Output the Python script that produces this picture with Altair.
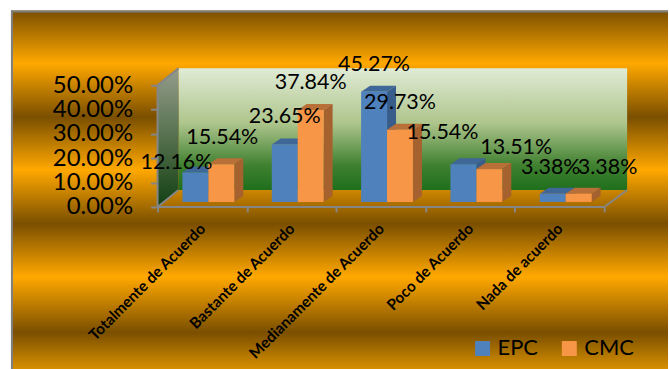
import altair as alt
import pandas as pd

# Survey answers and the share of each group that chose them
categories = ["Totalmente de Acuerdo", "Bastante de Acuerdo", "Medianamente de Acuerdo",
              "Poco de Acuerdo", "Nada de acuerdo"]
epc = [0.1216, 0.2365, 0.4527, 0.1554, 0.0338]
cmc = [0.1554, 0.3784, 0.2973, 0.1351, 0.0338]

# Scale geometry of the drawing
PLOT_W, PLOT_H = 471, 139
PX_X = 89.6            # pixels per category
PX_Y = 244.0           # pixels per 100 %
X_MAX = PLOT_W / PX_X
Y_MAX = PLOT_H / PX_Y
WALL_DX, WALL_DY = 21 / PX_X, 17 / PX_Y
BAR_DX, BAR_DY = 9 / PX_X, 6 / PX_Y
BAR_W = 26 / PX_X
BAR_START = 25 / PX_X
BAR_BASE = 5 / PX_Y

SERIES = {
    "EPC": {"values": epc, "slot": 0, "front": "#4f81bd", "side": "#385d8a", "top": "#3f6797"},
    "CMC": {"values": cmc, "slot": 1, "front": "#f79646", "side": "#a5622f", "top": "#b96f38"},
}

# Pixel nudges of the value labels away from their default spot above each bar
EPC_NUDGE = [(-19, 18), (0, 0), (0, 0), (-21, -4), (-2, 1)]
CMC_NUDGE = [(1, 1), (0, 0), (0, 0), (27, 6), (29, 1)]
NUDGES = {"EPC": EPC_NUDGE, "CMC": CMC_NUDGE}

fronts, faces, labels = [], [], []
for name, s in SERIES.items():
    for i, v in enumerate(s["values"]):
        left = i + BAR_START + s["slot"] * BAR_W
        right = left + BAR_W
        top = v + BAR_BASE
        fronts.append({"series": name, "x": left, "x2": right, "y": top, "y2": BAR_BASE})
        pid = f"{name}{i}"
        faces += [
            {"id": pid + "t", "fill": s["top"], "x": left, "y": top, "y2": top},
            {"id": pid + "t", "fill": s["top"], "x": left + BAR_DX, "y": top + BAR_DY, "y2": top},
            {"id": pid + "t", "fill": s["top"], "x": right, "y": top + BAR_DY, "y2": top},
            {"id": pid + "t", "fill": s["top"], "x": right + BAR_DX, "y": top + BAR_DY, "y2": top + BAR_DY},
            {"id": pid + "s", "fill": s["side"], "x": right, "y": top, "y2": BAR_BASE},
            {"id": pid + "s", "fill": s["side"], "x": right + BAR_DX, "y": top + BAR_DY, "y2": BAR_BASE + BAR_DY},
        ]
        nx, ny = NUDGES[name][i]
        labels.append({"value": v, "x": (left + right) / 2 + nx / PX_X,
                       "y": top + (27 - ny) / PX_Y})

x_scale = alt.Scale(domain=[0, X_MAX], nice=False, zero=False)
y_scale = alt.Scale(domain=[0, Y_MAX], nice=False, zero=False)

# Percentage ticks on the left, slanted answer labels below the floor
x_axis = alt.Axis(
    values=[0, 1, 2, 3, 4, 5], domain=False, grid=False, tickSize=5, tickWidth=2,
    tickColor="#868686", labelAngle=-45, labelAlign="right", labelBaseline="middle",
    labelOffset=45, labelPadding=14, labelFont="Lato", labelFontSize=15.3,
    labelFontWeight="bold", labelColor="black", labelOverlap=False, labelFlush=False,
    labelBound=False, labelLimit=400, zindex=1,
    labelExpr="[" + ",".join(repr(c) for c in categories) + ",''][datum.value]")
y_axis = alt.Axis(
    values=[0, 0.1, 0.2, 0.3, 0.4, 0.5], format=".2%", domain=False, grid=False,
    tickSize=7, tickWidth=2, tickColor="#868686", labelPadding=18, labelFont="Lato",
    labelFontSize=24, labelColor="black", labelOverlap=False, labelBound=False,
    labelFlush=False, zindex=1)

X = lambda f="x": alt.X(f"{f}:Q", scale=x_scale, axis=x_axis, title=None)
Y = lambda f="y": alt.Y(f"{f}:Q", scale=y_scale, axis=y_axis, title=None)


def vgrad(*stops):
    return alt.LinearGradient(
        gradient="linear", x1=0, y1=0, x2=0, y2=1,
        stops=[alt.GradientStop(offset=o, color=c) for o, c in stops],
    )


DARK, AMBER = "#7a4f00", "#ffa800"
one = pd.DataFrame({"k": [0]})

# Metallic banded panel behind everything
panel = alt.Chart(one).mark_rect(
    fill=vgrad((0, DARK), (0.147, AMBER), (0.297, DARK), (0.444, AMBER),
               (0.594, DARK), (0.742, AMBER), (0.897, DARK), (1, "#d89000"))
).encode(x=alt.value(-147), x2=alt.value(512), y=alt.value(-58), y2=alt.value(302))

frame_left = alt.Chart(one).mark_rule(color="#7f7f7f", strokeWidth=2).encode(
    x=alt.value(-146), y=alt.value(-58), y2=alt.value(302))
frame_top = alt.Chart(one).mark_rule(color="#7f7f7f", strokeWidth=2).encode(
    y=alt.value(-57), x=alt.value(-147), x2=alt.value(512))

# Back wall and side wall of the 3D box
back_wall = alt.Chart(pd.DataFrame([{"x": WALL_DX, "x2": X_MAX, "y": Y_MAX, "y2": WALL_DY}])).mark_rect(
    fill=vgrad((0, "#e0ebd5"), (0.45, "#aec58c"), (0.8, "#3f8030"), (1, "#1f6f1c"))
).encode(x=X(), x2="x2:Q", y=Y(), y2="y2:Q")

side_wall = alt.Chart(pd.DataFrame([
    {"x": 0, "y": 0.5, "y2": 0},
    {"x": WALL_DX, "y": Y_MAX, "y2": WALL_DY},
])).mark_area(
    fill=vgrad((0, "#949c8c"), (0.5, "#55704d"), (1, "#123f12")), interpolate="linear"
).encode(x=X(), y=Y(), y2="y2:Q")

# Grey edges of the box floor and wall
edges = pd.DataFrame([
    {"e": "a", "x": 0, "y": 0}, {"e": "a", "x": 5, "y": 0},
    {"e": "a", "x": X_MAX, "y": WALL_DY},
    {"e": "b", "x": 0, "y": 0}, {"e": "b", "x": WALL_DX, "y": WALL_DY},
    {"e": "c", "x": 0, "y": 0}, {"e": "c", "x": 0, "y": 0.5}, {"e": "c", "x": WALL_DX, "y": Y_MAX},
])
edge_lines = alt.Chart(edges).transform_window(o="row_number()").mark_line(
    color="#868686", strokeWidth=2
).encode(x=X(), y=Y(), detail="e:N", order=alt.Order("o:Q"))

# Top and side faces of each bar, then the front faces with the legend
bar_faces = alt.Chart(pd.DataFrame(faces)).mark_area(interpolate="linear").encode(
    x=X(), y=Y(), y2="y2:Q", detail="id:N",
    fill=alt.Fill("fill:N", scale=None, legend=None),
)

bar_fronts = alt.Chart(pd.DataFrame(fronts)).mark_rect().encode(
    x=X(), x2="x2:Q", y=Y(), y2="y2:Q",
    color=alt.Color("series:N", title=None,
                    scale=alt.Scale(domain=list(SERIES), range=[s["front"] for s in SERIES.values()]),
                    legend=alt.Legend(orient="none", legendX=315, legendY=270, direction="horizontal",
                                      symbolType="square", symbolSize=225, symbolStrokeWidth=0,
                                      symbolOpacity=1, labelFont="Lato", labelFontSize=22,
                                      labelColor="black", columnPadding=20, labelOffset=4,
                                      padding=0)),
)

value_labels = alt.Chart(pd.DataFrame(labels)).mark_text(
    font="Lato", fontSize=21.5, color="black", baseline="middle", align="center"
).encode(x=X(), y=Y(), text=alt.Text("value:Q", format=".2%"))

chart = alt.layer(
    panel, frame_left, frame_top, back_wall, side_wall, edge_lines,
    bar_faces, bar_fronts, value_labels,
).properties(
    width=PLOT_W, height=PLOT_H,
    padding={"left": 10, "top": 9, "right": 0, "bottom": 0},
    background="white",
).configure_view(stroke=None)

chart.save("out.html", embed_options={"renderer": "svg", "actions": False})
